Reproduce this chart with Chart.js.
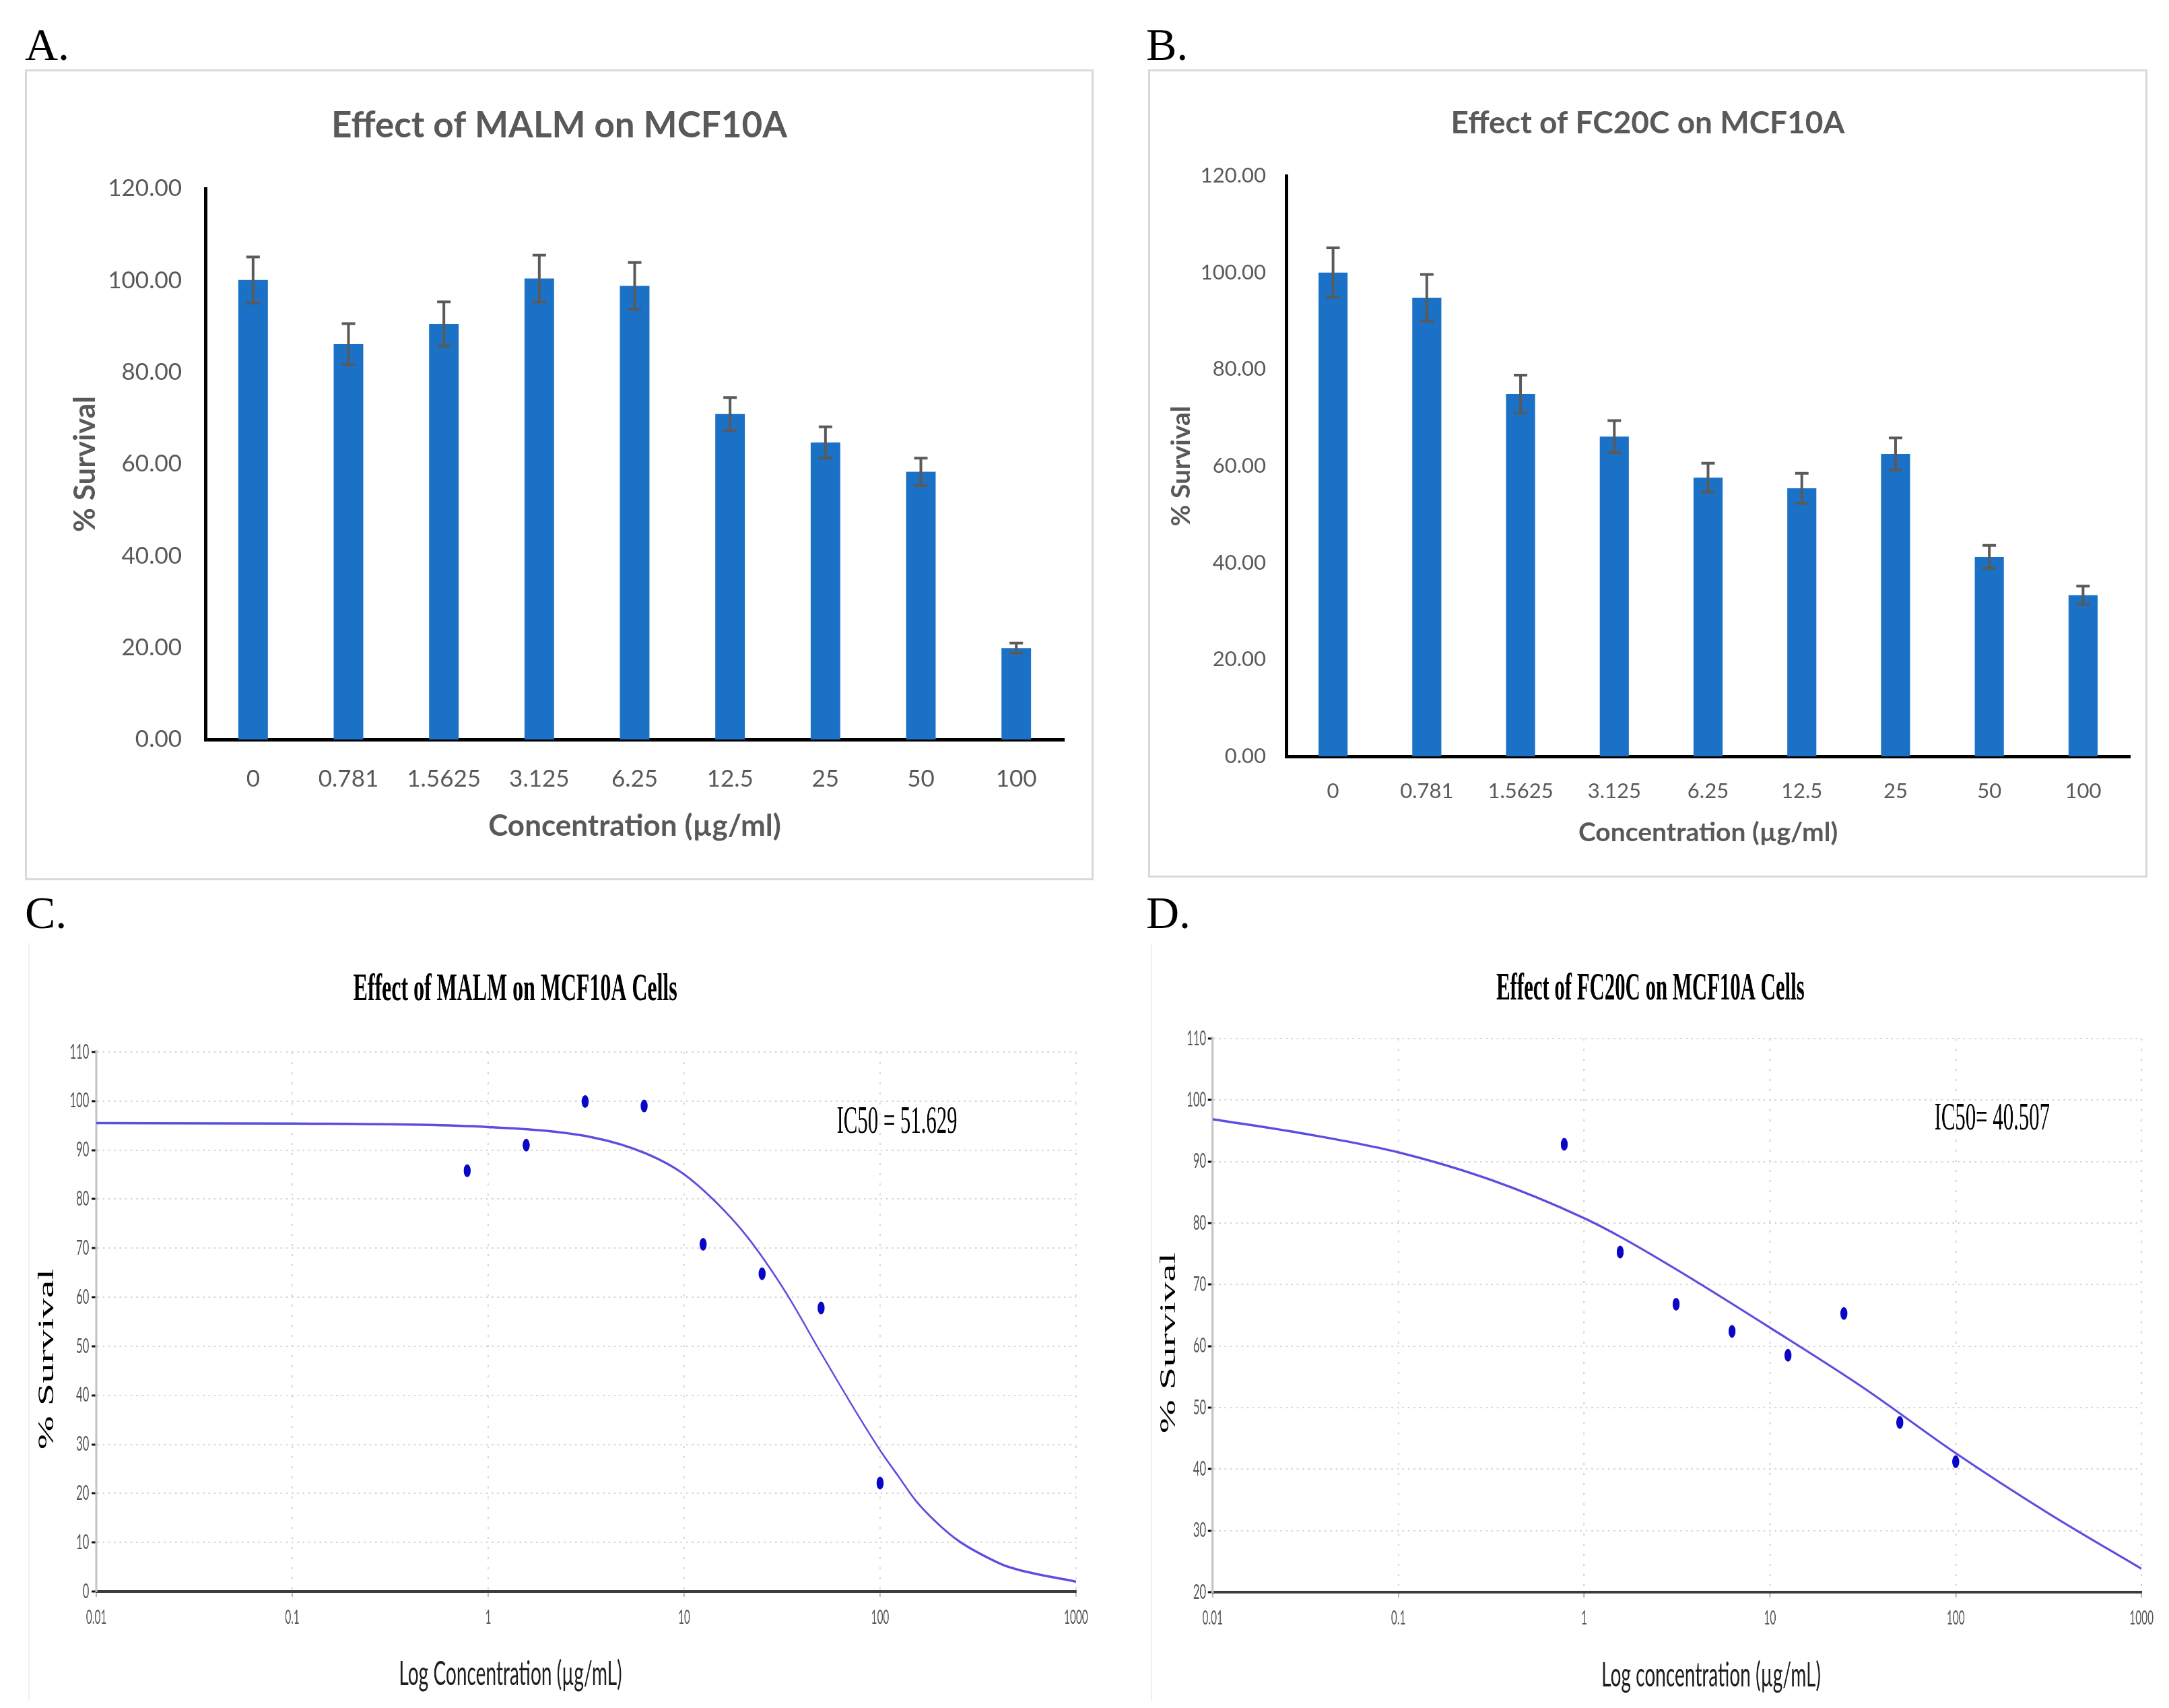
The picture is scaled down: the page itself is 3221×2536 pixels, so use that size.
<!DOCTYPE html>
<html lang="en">
<head>
<meta charset="UTF-8">
<title>Effect of MALM and FC20C on MCF10A</title>
<script src="https://cdn.jsdelivr.net/npm/chart.js"></script>
<style>
  html, body { margin: 0; padding: 0; background: #fff; width: 3221px; height: 2536px; overflow: hidden; }
  .abs { position: absolute; }
  .frame { position: absolute; box-sizing: border-box; border: 3px solid #d9d9d9; pointer-events: none; }
  .letter { position: absolute; font-family: "Liberation Serif", serif; font-size: 68px; line-height: 1; color: #000; }
  .squash { position: absolute; left: 0; top: 0; transform-origin: 0 0; transform: scaleX(0.55); }
  .edge { position: absolute; width: 2px; background: #efefef; }
</style>
</head>
<body>
  <div class="letter" style="left:37px; top:32px;">A.</div>
  <div class="letter" style="left:1702px; top:32px;">B.</div>
  <div class="letter" style="left:37px; top:1321px;">C.</div>
  <div class="letter" style="left:1702px; top:1321px;">D.</div>

  <canvas id="chartA" class="abs" width="1587" height="1204" style="left:37px; top:103px;"></canvas>
  <div class="frame" style="left:37px; top:103px; width:1587px; height:1204px;"></div>

  <canvas id="chartB" class="abs" width="1484" height="1200" style="left:1705px; top:103px;"></canvas>
  <div class="frame" style="left:1705px; top:103px; width:1484px; height:1200px;"></div>

  <div class="edge" style="left:42px; top:1400px; height:1125px;"></div>
  <div class="abs" style="left:43px; top:1400px; width:1600px; height:1136px;">
    <div class="squash"><canvas id="chartC" width="2909" height="1136"></canvas></div>
  </div>

  <div class="edge" style="left:1709px; top:1400px; height:1125px;"></div>
  <div class="abs" style="left:1710px; top:1400px; width:1511px; height:1136px;">
    <div class="squash"><canvas id="chartD" width="2747" height="1136"></canvas></div>
  </div>

<script>
// bar charts (A, B)
const concLabels = ['0', '0.781', '1.5625', '3.125', '6.25', '12.5', '25', '50', '100'];
const malmSurvival = [100.1, 86.1, 90.5, 100.4, 98.8, 70.9, 64.7, 58.3, 19.9];
const malmError = [5.0, 4.5, 4.8, 5.1, 5.1, 3.6, 3.4, 3.0, 1.1];
const fc20cSurvival = [100.0, 94.8, 74.9, 66.1, 57.6, 55.4, 62.5, 41.2, 33.3];
const fc20cError = [5.1, 4.8, 3.9, 3.3, 3.0, 3.1, 3.3, 2.4, 1.9];

// dose-response plots (C, D)
const doseConc = [0.781, 1.5625, 3.125, 6.25, 12.5, 25, 50, 100];
const malmPoints = [85.8, 91.0, 99.9, 99.0, 70.8, 64.8, 57.8, 22.1];
const fc20cPoints = [92.8, 75.3, 66.8, 62.4, 58.5, 65.3, 47.6, 41.2];

// fitted curves
const malmFitConc = [0.01, 0.1, 1, 3.4, 6.3, 9.8, 14.6, 21, 33, 49.5, 74.6, 100, 125, 153, 200, 252, 350, 453, 1000];
const malmFitSurvival = [95.5, 95.4, 94.7, 92.6, 89.4, 85.3, 79.3, 72.3, 61.0, 48.9, 36.9, 28.8, 23.3, 18.4, 13.6, 10.3, 7.0, 5.0, 2.0];
const fc20cFitConc = [0.01, 0.0316, 0.1, 0.316, 1, 1.56, 3.16, 10, 31.6, 100, 316, 1000];
const fc20cFitSurvival = [96.9, 94.5, 91.5, 87.0, 80.8, 77.8, 72.4, 63.0, 53.3, 42.6, 32.8, 23.8];

const logTicks = [0.01, 0.1, 1, 10, 100, 1000];
const logTickLabels = ['0.01', '0.1', '1', '10', '100', '1000'];

const barBlue = '#1a71c6';
const excelGray = '#595959';
const curveColor = '#5b4de0';
const dotColor = '#0a06c8';

// error bars drawn on top of bar dataset 0
const errorBarPlugin = {
  id: 'errorBars',
  afterDatasetsDraw(chart, args, opts) {
    const errs = opts.errors;
    if (!errs) return;
    const meta = chart.getDatasetMeta(0);
    const values = chart.data.datasets[0].data;
    const y = chart.scales.y;
    const ctx = chart.ctx;
    ctx.save();
    ctx.strokeStyle = opts.color;
    ctx.lineWidth = opts.width;
    meta.data.forEach((bar, i) => {
      const top = y.getPixelForValue(values[i] + errs[i]);
      const bot = y.getPixelForValue(values[i] - errs[i]);
      ctx.beginPath();
      ctx.moveTo(bar.x, top); ctx.lineTo(bar.x, bot);
      ctx.moveTo(bar.x - opts.cap, top); ctx.lineTo(bar.x + opts.cap, top);
      ctx.moveTo(bar.x - opts.cap, bot); ctx.lineTo(bar.x + opts.cap, bot);
      ctx.stroke();
    });
    ctx.restore();
  }
};

// free text for the dose-response plots (pixel or data coords)
const captionPlugin = {
  id: 'captions',
  afterDraw(chart, args, opts) {
    const ctx = chart.ctx;
    (opts.items || []).forEach(it => {
      let x = it.x, y = it.y;
      if (it.data) {
        x = chart.scales.x.getPixelForValue(it.x);
        y = chart.scales.y.getPixelForValue(it.y);
      }
      ctx.save();
      ctx.translate(x, y);
      if (it.rotate) ctx.rotate(it.rotate);
      ctx.font = it.font;
      ctx.fillStyle = it.color || '#000';
      ctx.textAlign = 'center';
      ctx.textBaseline = 'middle';
      ctx.fillText(it.text, 0, 0);
      ctx.restore();
    });
  }
};

function barChart(id, title, values, errors, g) {
  new Chart(document.getElementById(id), {
    type: 'bar',
    data: {
      labels: concLabels,
      datasets: [{
        data: values,
        backgroundColor: barBlue,
        barPercentage: 0.31,
        categoryPercentage: 1
      }]
    },
    options: {
      responsive: false,
      animation: false,
      // same padding on both sides keeps the title centred on the frame
      layout: { padding: { top: 0, right: g.side, bottom: 0, left: g.side } },
      plugins: {
        legend: { display: false },
        tooltip: { enabled: false },
        title: {
          display: true,
          text: title,
          color: excelGray,
          font: { family: 'Lato', size: g.titleSize, weight: 'bold' },
          padding: { top: g.titleTop, bottom: g.titleBottom }
        },
        errorBars: { errors: errors, color: '#5a5a5a', width: 4, cap: 10 }
      },
      scales: {
        x: {
          grid: { display: false, drawTicks: false },
          border: { display: true, color: '#000', width: 5 },
          ticks: { color: excelGray, font: { family: 'Lato', size: g.tickSize }, padding: g.xTickPad, maxRotation: 0, autoSkip: false },
          title: {
            display: true,
            text: 'Concentration (µg/ml)',
            color: excelGray,
            font: { family: 'Lato', size: g.axisSize, weight: 'bold' },
            padding: { top: 0, bottom: g.xTitlePad }
          },
          afterFit: s => { s.height = g.xHeight; }
        },
        y: {
          min: 0,
          max: 120,
          grid: { display: false, drawTicks: false },
          border: { display: true, color: '#000', width: 5 },
          ticks: { stepSize: 20, color: excelGray, font: { family: 'Lato', size: g.tickSize }, padding: g.yTickPad, callback: v => v.toFixed(2) },
          title: {
            display: true,
            text: '% Survival',
            color: excelGray,
            font: { family: 'Lato', size: g.axisSize, weight: 'bold' },
            padding: { top: g.yTitlePad, bottom: 0 }
          },
          afterFit: s => { s.width = g.yWidth; }
        }
      }
    },
    plugins: [errorBarPlugin]
  });
}

function doseChart(id, fitConc, fitSurv, points, yMin, g, texts) {
  const tickFont = { family: 'Lato', size: 28 };
  new Chart(document.getElementById(id), {
    type: 'scatter',
    data: {
      datasets: [
        {
          type: 'line',
          data: fitConc.map((c, i) => ({ x: c, y: fitSurv[i] })),
          borderColor: curveColor,
          borderWidth: 3.5,
          pointRadius: 0,
          fill: false,
          cubicInterpolationMode: 'monotone',
          order: 2
        },
        {
          type: 'scatter',
          data: doseConc.map((c, i) => ({ x: c, y: points[i] })),
          backgroundColor: dotColor,
          pointRadius: 9.5,
          pointBorderWidth: 0,
          order: 1
        }
      ]
    },
    options: {
      responsive: false,
      animation: false,
      layout: { padding: { top: g.top, right: g.padRight, bottom: 0, left: 0 } },
      plugins: {
        legend: { display: false },
        tooltip: { enabled: false },
        captions: { items: texts }
      },
      scales: {
        x: {
          type: 'logarithmic',
          min: 0.01,
          max: 1000,
          afterBuildTicks: s => { s.ticks = logTicks.map(v => ({ value: v })); },
          ticks: { callback: (v, i) => logTickLabels[i], color: '#555', font: tickFont, padding: 14, autoSkip: false, maxRotation: 0 },
          grid: { color: '#d2d2d2', lineWidth: 3.6, tickColor: '#b4b4b4', tickLength: 8, tickWidth: 3.6 },
          border: { display: true, color: '#3c3c3c', width: 4, dash: [3, 12] },
          afterFit: s => { s.height = g.xHeight; }
        },
        y: {
          min: yMin,
          max: 110,
          ticks: { stepSize: 10, color: '#555', font: { family: 'Lato', size: 30 }, padding: g.yTickPad },
          grid: { color: '#d2d2d2', lineWidth: 2, tickColor: '#111', tickLength: 12.7, tickWidth: 3 },
          border: { display: true, color: '#c4c4c4', width: 5.5, dash: [4.5, 10.5] },
          afterFit: s => { s.width = g.yWidth; }
        }
      }
    },
    plugins: [captionPlugin]
  });
}

barChart('chartA', 'Effect of MALM on MCF10A', malmSurvival, malmError, {
  titleSize: 53, tickSize: 35, axisSize: 44, side: 44,
  titleTop: 52.2, titleBottom: 61.2, xTickPad: 38, xTitlePad: 53.6,
  xHeight: 209, yTickPad: 35, yTitlePad: 19, yWidth: 224
});

barChart('chartB', 'Effect of FC20C on MCF10A', fc20cSurvival, fc20cError, {
  titleSize: 46, tickSize: 31, axisSize: 39, side: 26,
  titleTop: 52.4, titleBottom: 50.4, xTickPad: 33, xTitlePad: 43.6,
  xHeight: 180, yTickPad: 30, yTitlePad: 0, yWidth: 179
});

doseChart('chartC', malmFitConc, malmFitSurvival, malmPoints, 0,
  { top: 162, padRight: 82, xHeight: 173, yWidth: 182, yTickPad: 7 },
  [
    { text: 'Effect of MALM on MCF10A Cells', x: 1313, y: 70, font: 'bold 58px "Liberation Serif"' },
    { text: 'IC50 = 51.629', x: 122, y: 95.6, data: true, font: '56px "Liberation Serif"' },
    { text: 'Log Concentration (µg/mL)', x: 1300, y: 1086, font: '51px Lato', color: '#1e1e1e' },
    { text: '% Survival', x: 49, y: 618, rotate: -Math.PI / 2, font: '60px "Liberation Serif"' }
  ]);

doseChart('chartD', fc20cFitConc, fc20cFitSurvival, fc20cPoints, 20,
  { top: 142, padRight: 74, xHeight: 172, yWidth: 165, yTickPad: 5 },
  [
    { text: 'Effect of FC20C on MCF10A Cells', x: 1347, y: 70, font: 'bold 56px "Liberation Serif"' },
    { text: 'IC50= 40.507', x: 157, y: 96.8, data: true, font: '56px "Liberation Serif"' },
    { text: 'Log concentration (µg/mL)', x: 1511, y: 1088, font: '51px Lato', color: '#1e1e1e' },
    { text: '% Survival', x: 47, y: 594, rotate: -Math.PI / 2, font: '60px "Liberation Serif"' }
  ]);
</script>
</body>
</html>
